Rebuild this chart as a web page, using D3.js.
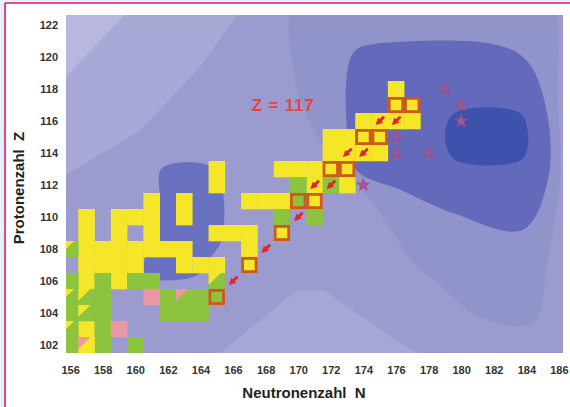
<!DOCTYPE html>
<html>
<head>
<meta charset="utf-8">
<script src="https://cdn.jsdelivr.net/npm/d3@7"></script>
<style>
body { margin: 0; background: #fff; }
svg { display: block; }
</style>
</head>
<body>
<svg></svg>
<script>
// tick labels
var xTicks = [156,158,160,162,164,166,168,170,172,174,176,178,180,182,184,186];
var yTicks = [102,104,106,108,110,112,114,116,118,120,122];

// nuclides [N, Z] by decay mode
var alphaCells = [
  [157,103],
  [157,106],[159,106],
  [157,107],[158,107],[159,107],[160,107],[163,107],[164,107],[165,107],
  [157,108],[158,108],[159,108],[160,108],[161,108],[162,108],[163,108],[167,108],
  [157,109],[159,109],[161,109],[165,109],[166,109],[167,109],
  [157,110],[159,110],[160,110],[161,110],[163,110],
  [161,111],[163,111],[167,111],[168,111],[169,111],
  [165,112],[171,112],[173,112],
  [165,113],[169,113],[170,113],[171,113],
  [172,114],[173,114],[174,114],[175,114],
  [172,115],[173,115],
  [174,116],[175,116],[176,116],[177,116],
  [176,118]
];
var fissionCells = [
  [156,102],[158,102],[160,102],
  [158,103],
  [156,104],[158,104],[162,104],[163,104],[164,104],
  [158,105],[162,105],[164,105],
  [156,106],[158,106],[160,106],[161,106],
  [169,110],[171,110],
  [170,112],[172,112]
];
var ecCells = [[159,103],[161,105]];
// mixed decays: main mode + corner triangle
var fissionAlphaCells = [[156,103],[157,104],[156,105],[157,105],[156,108],[165,106]];
var alphaEcCells = [[157,102]];
var fissionEcCells = [[163,105]];

// decay chains of element 117
var chainAlpha = [[177,117],[176,117],[175,115],[174,115],[173,113],[172,113],[171,111],[169,109],[167,107]];
var chainFission = [[170,111],[165,105]];
var chainSteps = [
  [177,117,175,115],[175,115,173,113],[173,113,171,111],[171,111,169,109],
  [169,109,167,107],[167,107,165,105],
  [176,117,174,115],[174,115,172,113],[172,113,170,111]
];
var predicted = [[179,118],[180,117],[180,116],[176,115],[176,114],[178,114],[174,112]];

// shell correction landscape, outlines in [N, Z]
var contourCorner = [[155,123],[159.7,123],[155,118]];
var contourLight = [[155,123],[166.5,123],[164,119.4],[160.3,115.4],[155,112.2]];
var contourBottom = [[164.6,101],[169.9,105.4],[171.6,105.4],[175.6,102.6],[178.1,101]];
var contourMid = [[170.1,124],[185.1,124],[185.9,117.3],[186.06,112.3],[185.3,107.3],[184.4,103.4],
  [181.2,103.7],[178.7,105.75],[177.0,107.2],[175.9,108.9],[174.4,111.1],[172.9,112.6],
  [171.3,114.8],[169.8,118.6]];
var contourIsland = [[173.0,115.4],[173.1,119.6],[173.6,120.5],[174.6,120.8],[182.0,120.8],[184.0,119.8],
  [185.1,117.3],[185.4,112.75],[183.8,109.2],[179.5,110.25],[176.25,111.7],[173.6,112.9]];
var contourCore = [[179.0,115.1],[179.6,116.5],[183.6,116.5],[184.1,115.1],[183.73,113.6],[179.6,113.6]];
var contourDeformed = [[161.64,113.06],[164.6,113.19],[165.3,112],[165.3,108.56],[164.6,107.44],
  [163.67,106.3],[160.72,106.3],[160.6,107.44],[161.4,108.56],[161.5,111.06]];

var colors = {
  alpha: "#f6e629", fission: "#8cc43e", ec: "#ea98a6",
  box: "#d0581c", arrow: "#e3262b"
};

var svg = d3.select("svg").attr("width", 570).attr("height", 407);

// page frame
svg.append("rect").attr("width", 570).attr("height", 407).attr("fill", "#e3f3f8");
svg.append("rect").attr("x", 5).attr("y", 3).attr("width", 565).attr("height", 404).attr("fill", "#fff");
svg.append("line").attr("x1", 5).attr("x2", 5).attr("y1", 3).attr("y2", 407)
  .attr("stroke", "#e5127e").attr("stroke-width", 1.6);
svg.append("line").attr("x1", 5).attr("x2", 570).attr("y1", 3).attr("y2", 3)
  .attr("stroke", "#e5127e").attr("stroke-width", 1.6);

var xScale = d3.scaleLinear().domain([155.75, 186.25]).range([66, 563]);
var yScale = d3.scaleLinear().domain([101.5, 122.625]).range([353, 15]);

var defs = svg.append("defs");
defs.append("clipPath").attr("id", "plotClip")
  .append("rect").attr("x", 66).attr("y", 15).attr("width", 497).attr("height", 338);
defs.append("marker").attr("id", "head")
  .attr("viewBox", "0 0 6 6").attr("refX", 3).attr("refY", 3)
  .attr("markerWidth", 2.4).attr("markerHeight", 2.4).attr("orient", "auto")
  .append("path").attr("d", "M0,0 L6,3 L0,6 Z").attr("fill", colors.arrow);

var plot = svg.append("g").attr("clip-path", "url(#plotClip)");

plot.append("rect").attr("x", 66).attr("y", 15).attr("width", 497).attr("height", 338)
  .attr("fill", "#9b9bcf");

var straight = d3.line()
  .x(function(d) { return xScale(d[0]); })
  .y(function(d) { return yScale(d[1]); })
  .curve(d3.curveLinearClosed);
var smooth = d3.line()
  .x(function(d) { return xScale(d[0]); })
  .y(function(d) { return yScale(d[1]); })
  .curve(d3.curveCatmullRomClosed.alpha(0.5));

var drawArea = function(pts, gen, fill)
{
  plot.append("path").attr("d", gen(pts)).attr("fill", fill);
};
drawArea(contourLight, straight, "#a9a9d8");
drawArea(contourCorner, straight, "#b7b7df");
drawArea(contourBottom, straight, "#a7a7d6");
drawArea(contourMid, smooth, "#9193cb");
drawArea(contourIsland, smooth, "#646abb");
drawArea(contourCore, smooth, "#3e52ad");
drawArea(contourDeformed, smooth, "#6a71c0");

var cellX = function(d) { return xScale(d[0] - 0.5); };
var cellY = function(d) { return yScale(d[1] + 0.5); };
var cellW = xScale(157) - xScale(156);
var cellH = yScale(102) - yScale(103);

var drawCells = function(data, fill)
{
  plot.append("g").selectAll("rect")
    .data(data)
    .enter()
    .append("rect")
    .attr("x", cellX)
    .attr("y", cellY)
    .attr("width", cellW + 0.3)
    .attr("height", cellH + 0.3)
    .attr("fill", fill);
};
var drawCorners = function(data, fill)
{
  plot.append("g").selectAll("path")
    .data(data)
    .enter()
    .append("path")
    .attr("d", function(d) {
      var x0 = cellX(d), y0 = cellY(d);
      return "M" + x0 + "," + y0 + "L" + (x0 + cellW * 0.75) + "," + y0 +
        "L" + x0 + "," + (y0 + cellH * 0.75) + "Z";
    })
    .attr("fill", fill);
};

drawCells(alphaCells, colors.alpha);
drawCells(fissionCells, colors.fission);
drawCells(ecCells, colors.ec);
drawCells(fissionAlphaCells, colors.fission);
drawCorners(fissionAlphaCells, colors.alpha);
drawCells(alphaEcCells, colors.alpha);
drawCorners(alphaEcCells, colors.ec);
drawCells(fissionEcCells, colors.fission);
drawCorners(fissionEcCells, colors.ec);

var drawBoxes = function(data, fill)
{
  plot.append("g").selectAll("rect")
    .data(data)
    .enter()
    .append("rect")
    .attr("x", function(d) { return cellX(d) + 1.4; })
    .attr("y", function(d) { return cellY(d) + 1.4; })
    .attr("width", cellW - 2.8)
    .attr("height", cellH - 2.8)
    .attr("fill", fill)
    .attr("stroke", colors.box)
    .attr("stroke-width", 2.8);
};
drawBoxes(chainAlpha, colors.alpha);
drawBoxes(chainFission, colors.fission);

// decay arrows
var steps = plot.append("g");
steps.selectAll("line")
  .data(chainSteps)
  .enter()
  .append("line")
  .attr("x1", function(d) { return xScale(d[0] - 0.78); })
  .attr("y1", function(d) { return yScale(d[1] - 0.78); })
  .attr("x2", function(d) { return xScale(d[0] - 1.1); })
  .attr("y2", function(d) { return yScale(d[1] - 1.1); })
  .attr("stroke", colors.arrow)
  .attr("stroke-width", 3)
  .attr("stroke-linecap", "round")
  .attr("marker-end", "url(#head)");

// predicted nuclides
plot.append("g").selectAll("path")
  .data(predicted)
  .enter()
  .append("path")
  .attr("transform", function(d) { return "translate(" + xScale(d[0]) + "," + yScale(d[1]) + ")"; })
  .attr("d", d3.symbol().type(d3.symbolStar).size(38))
  .attr("fill", "#8164b2")
  .attr("stroke", "#b9467a")
  .attr("stroke-width", 1.1);

plot.append("text")
  .attr("x", xScale(167.15))
  .attr("y", yScale(116.6))
  .attr("fill", "#e2463e")
  .attr("font-family", "Liberation Sans, Arial, sans-serif")
  .attr("font-weight", "bold")
  .attr("font-size", "17px")
  .attr("letter-spacing", "0.8px")
  .text("Z = 117");

// axes
var xAxis = svg.append("g")
  .attr("transform", "translate(0,353)")
  .call(d3.axisBottom(xScale).tickValues(xTicks).tickSize(0).tickPadding(13));
var yAxis = svg.append("g")
  .attr("transform", "translate(66,0)")
  .call(d3.axisLeft(yScale).tickValues(yTicks).tickSize(0).tickPadding(8));
[xAxis, yAxis].forEach(function(a) {
  a.select(".domain").remove();
  a.selectAll("text")
    .attr("font-family", "Liberation Sans, Arial, sans-serif")
    .attr("font-weight", "bold")
    .attr("font-size", "11px")
    .attr("fill", "#333");
});

svg.append("text")
  .attr("x", 304).attr("y", 398)
  .attr("text-anchor", "middle")
  .attr("font-family", "Liberation Sans, Arial, sans-serif")
  .attr("font-weight", "bold")
  .attr("font-size", "15px")
  .attr("fill", "#222")
  .attr("xml:space", "preserve")
  .text("Neutronenzahl  N");

svg.append("text")
  .attr("transform", "translate(24,188) rotate(-90)")
  .attr("text-anchor", "middle")
  .attr("font-family", "Liberation Sans, Arial, sans-serif")
  .attr("font-weight", "bold")
  .attr("font-size", "15px")
  .attr("fill", "#222")
  .attr("xml:space", "preserve")
  .text("Protonenzahl  Z");
</script>
</body>
</html>
